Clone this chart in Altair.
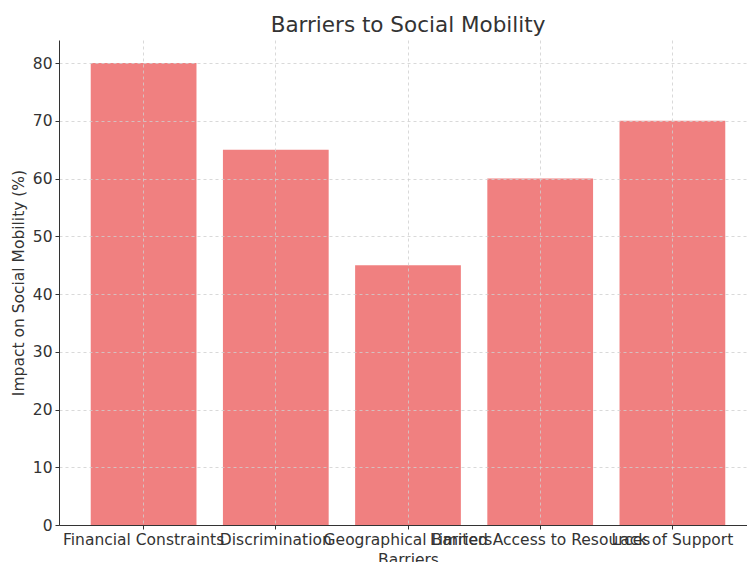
import altair as alt
import pandas as pd

categories = ["Financial Constraints", "Discrimination", "Geographical Barriers",
              "Limited Access to Resources", "Lack of Support"]
impact = [80, 65, 45, 60, 70]

df = pd.DataFrame({"Barrier": categories, "Impact": impact})

common_axis = dict(gridDash=[3, 3], gridColor="#cfcfcf", gridWidth=0.8,
                   tickSize=4, tickColor="#333333", domainColor="#333333",
                   labelColor="#333333", titleColor="#333333",
                   titleFontWeight="normal", zindex=1, labelLimit=0,
                   labelFont="DejaVu Sans", titleFont="DejaVu Sans")

bars = alt.Chart(df).mark_bar(color="#F08080").encode(
    x=alt.X("Barrier:N", sort=categories, title="Barriers",
            scale=alt.Scale(paddingInner=0.2, paddingOuter=0.24, range=[0, 698]),
            axis=alt.Axis(labelAngle=0, labelOverlap=False, grid=True,
                          labelFontSize=15.5, titleFontSize=15.5,
                          labelPadding=3, titlePadding=5, **common_axis)),
    y=alt.Y("Impact:Q", title="Impact on Social Mobility (%)",
            scale=alt.Scale(domain=[0, 84], nice=False),
            axis=alt.Axis(values=list(range(0, 81, 10)), grid=True,
                          labelFontSize=15.5, titleFontSize=15.5,
                          labelPadding=3, titlePadding=6, **common_axis)),
)

chart = bars.properties(
    width=688, height=485,
    title=alt.TitleParams("Barriers to Social Mobility", fontSize=21.5,
                          font="DejaVu Sans", fontWeight="normal",
                          color="#333333", offset=4, anchor="middle", dx=5),
    autosize=alt.AutoSizeParams(type="none"),
    padding={"left": 59, "top": 40, "right": 0, "bottom": 37},
).configure_view(stroke=None)

chart.save("out.html", embed_options={"renderer": "svg", "actions": False})
